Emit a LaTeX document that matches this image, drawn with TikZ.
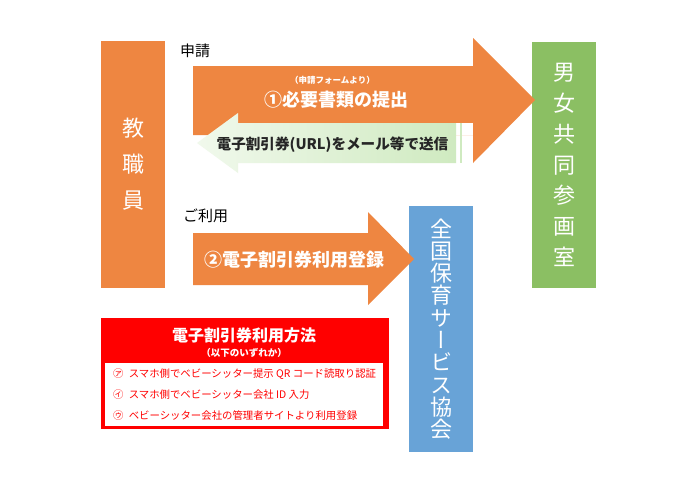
\documentclass[tikz,border=0pt]{standalone}
\usepackage{fontspec}
\setmainfont{Noto Sans CJK JP}
\newfontfamily\tatefont[RawFeature=+vert]{Noto Sans CJK JP}
\usetikzlibrary{positioning}
\definecolor{kyoorange}{HTML}{EE8641}
\definecolor{shitsugreen}{HTML}{8BBF63}
\definecolor{kyokaiblue}{HTML}{68A3D7}
\definecolor{mailgreen}{HTML}{CFEAC0}
\newcommand{\fs}[2]{\fontsize{#1}{#2}\selectfont}

\begin{document}
\begin{tikzpicture}[x=1pt,y=-1pt,
  tatebox/.style={minimum width=64pt,inner sep=0pt,text=white,align=center},
  yajirushi/.style={text=white,font=\fs{18}{20}\bfseries,inner sep=0pt},
  midashi/.style={anchor=west,font=\fs{15}{17},inner sep=0pt},
  houhou/.style={anchor=west,text=red,font=\fs{10.4}{12},inner sep=0pt}]
  \useasboundingbox[fill=white] (0,0) rectangle (674,498);

  % boxes
  \node (kyo) [tatebox,fill=kyoorange,minimum height=247pt,font=\fs{22}{36}] at (133,164.5) {教\\職\\員};
  \node (shitsu) [tatebox,fill=shitsugreen,minimum height=246pt,font=\fs{22}{30.7}] at (564,165) {男\\女\\共\\同\\参\\画\\室};
  \node (kyokai) [tatebox,fill=kyokaiblue,minimum height=246pt,font=\tatefont\fs{22}{22.3}] at (441,329) {全\\国\\保\\育\\サ\\ー\\ビ\\ス\\協\\会};

  % (1) teishutsu
  \fill[kyoorange] (193,66) -- (473,66) -- (473,38) -- (535,100) -- (473,163) -- (473,135) -- (193,135) -- cycle;
  \fill[white] (456,123) rectangle (473,135);
  \shade[left color=mailgreen!30,right color=mailgreen] (197,143) -- (238,113) -- (238,123) -- (456,123) -- (456,163) -- (238,163) -- (238,173) -- cycle;
  \draw[mailgreen,line width=1.2pt] (461,123) -- (461,163);
  \node (shinsei) [midashi] at (180,51) {申請};
  \node (teishutsu) [yajirushi] at (336.5,100) {①必要書類の提出};
  \node (form) [above=7pt of teishutsu,text=white,font=\fs{8.5}{10}\bfseries,inner sep=0pt,xshift=-4pt] {（申請フォームより）};
  \node (soushin) [font=\fs{14.6}{16}\bfseries,text=black!85,inner sep=0pt] at (332.5,145) {電子割引券(URL)をメール等で送信};

  % (2) touroku
  \fill[kyoorange] (193,233) -- (368,233) -- (368,212) -- (414,259) -- (368,305) -- (368,285) -- (193,285) -- cycle;
  \node (riyou) [midashi] at (183,216) {ご利用};
  \node (touroku) [yajirushi] at (294.5,260) {②電子割引券利用登録};

  % riyou houhou
  \fill[red] (101,318) rectangle (389,429);
  \fill[white] (105,363) rectangle (383,426);
  \node (title) [text=white,font=\fs{16}{18}\bfseries,inner sep=0pt] at (244,335) {電子割引券利用方法};
  \node (izure) [below=5pt of title,text=white,font=\fs{9.5}{11}\bfseries,inner sep=0pt] {（以下のいずれか）};
  \node (hou1) [houhou] at (113,374) {㋐\enspace スマホ側でベビーシッター提示 QR コード読取り認証};
  \node (hou2) [houhou] at (113,395) {㋑\enspace スマホ側でベビーシッター会社 ID 入力};
  \node (hou3) [houhou] at (113,416) {㋒\enspace ベビーシッター会社の管理者サイトより利用登録};
\end{tikzpicture}
\end{document}
